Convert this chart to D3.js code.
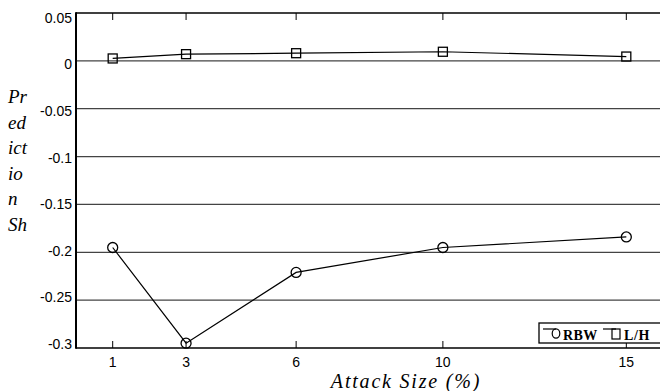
<!DOCTYPE html>
<html>
<head>
<meta charset="utf-8">
<script src="https://cdn.jsdelivr.net/npm/d3@7"></script>
<style>
  body { margin: 0; background: #fff; }
  svg { display: block; }
</style>
</head>
<body>
<svg id="svg" width="660" height="391"></svg>
<script>
'use strict';

const SANS_STYLE = "font-family:'Liberation Sans';font-size:14px";
const SERIF_ITALIC = "font-family:'Liberation Serif';font-style:italic";
const SERIF_BOLD = "font-family:'Liberation Serif';font-weight:bold;font-size:14px";

const attackSizes = [1, 3, 6, 10, 15];
const rbwValues = [-0.195, -0.295, -0.221, -0.195, -0.184];
const lhValues = [0.0025, 0.007, 0.008, 0.0095, 0.0045];
const yTicks = [0.05, 0, -0.05, -0.1, -0.15, -0.2, -0.25, -0.3];
const yLabelLines = ['Pr', 'ed', 'ict', 'io', 'n', 'Sh'];

const svg = d3.select('#svg');

const plotLeft = 76;
const plotTop = 13;
const plotBottom = 348;

const x = d3.scaleLinear().domain([0, 16]).range([plotLeft, 663]);
const y = d3.scaleLinear().domain([-0.3, 0.05]).range([plotBottom, plotTop]);
// tick labels sit slightly off the grid lines in the original export
const yLabel = d3.scaleLinear().domain([-0.3, 0.05]).range([344, 18]);

// Horizontal grid lines
svg.append('g')
  .selectAll('line')
  .data(yTicks.filter(d => d > -0.3 && d < 0.05))
  .join('line')
  .attr('x1', plotLeft)
  .attr('x2', 660)
  .attr('y1', d => y(d))
  .attr('y2', d => y(d))
  .attr('stroke', '#444')
  .attr('stroke-width', 1.3);

// Frame: top, bottom, left
svg.append('line')
  .attr('x1', plotLeft).attr('x2', 660)
  .attr('y1', plotTop).attr('y2', plotTop)
  .attr('stroke', '#000').attr('stroke-width', 1.6);
svg.append('line')
  .attr('x1', plotLeft).attr('x2', 660)
  .attr('y1', plotBottom).attr('y2', plotBottom)
  .attr('stroke', '#000').attr('stroke-width', 1.6);
svg.append('line')
  .attr('x1', plotLeft).attr('x2', plotLeft)
  .attr('y1', plotTop - 0.8).attr('y2', plotBottom + 0.8)
  .attr('stroke', '#000').attr('stroke-width', 2);

// X ticks, top and bottom, pointing inward
const xt = svg.append('g');
xt.selectAll('line.top')
  .data(attackSizes)
  .join('line')
  .attr('class', 'top')
  .attr('x1', d => x(d)).attr('x2', d => x(d))
  .attr('y1', plotTop).attr('y2', plotTop + 7)
  .attr('stroke', '#000');
xt.selectAll('line.bot')
  .data(attackSizes)
  .join('line')
  .attr('class', 'bot')
  .attr('x1', d => x(d)).attr('x2', d => x(d))
  .attr('y1', plotBottom).attr('y2', plotBottom - 7)
  .attr('stroke', '#000');

// X tick labels
svg.append('g')
  .selectAll('text')
  .data(attackSizes)
  .join('text')
  .attr('style', SANS_STYLE)
  .attr('x', d => x(d))
  .attr('y', 367)
  .attr('text-anchor', 'middle')
  .text(d => d);

// Y tick labels
svg.append('g')
  .selectAll('text')
  .data(yTicks)
  .join('text')
  .attr('style', SANS_STYLE)
  .attr('x', 72)
  .attr('y', d => yLabel(d))
  .attr('dy', '0.35em')
  .attr('text-anchor', 'end')
  .text(d => d);

// Axis titles
svg.append('text')
  .attr('style', SERIF_ITALIC + ';font-size:20px;letter-spacing:1.8px')
  .attr('x', 406)
  .attr('y', 388)
  .attr('text-anchor', 'middle')
  .text('Attack Size (%)');

svg.append('g')
  .selectAll('text')
  .data(yLabelLines)
  .join('text')
  .attr('style', SERIF_ITALIC + ';font-size:19px')
  .attr('x', 8)
  .attr('y', (d, i) => 103 + i * 25.6)
  .text(d => d);

// Series lines
const line = d3.line()
  .x((d, i) => x(attackSizes[i]))
  .y(d => y(d));

svg.append('path')
  .datum(rbwValues)
  .attr('d', line)
  .attr('fill', 'none')
  .attr('stroke', '#000')
  .attr('stroke-width', 1.2);

svg.append('path')
  .datum(lhValues)
  .attr('d', line)
  .attr('fill', 'none')
  .attr('stroke', '#000')
  .attr('stroke-width', 1.2);

// Markers
svg.append('g')
  .selectAll('circle')
  .data(rbwValues)
  .join('circle')
  .attr('cx', (d, i) => x(attackSizes[i]))
  .attr('cy', d => y(d))
  .attr('r', 5)
  .attr('fill', 'none')
  .attr('stroke', '#000')
  .attr('stroke-width', 1.3);

svg.append('g')
  .selectAll('rect')
  .data(lhValues)
  .join('rect')
  .attr('x', (d, i) => x(attackSizes[i]) - 4.5)
  .attr('y', d => y(d) - 4.5)
  .attr('width', 9)
  .attr('height', 9)
  .attr('fill', 'none')
  .attr('stroke', '#000')
  .attr('stroke-width', 1.3);

// Legend
const legend = svg.append('g');
legend.append('rect')
  .attr('x', 539)
  .attr('y', 323)
  .attr('width', 125)
  .attr('height', 20)
  .attr('fill', '#fff')
  .attr('stroke', '#000')
  .attr('stroke-width', 1.3);

legend.append('line')
  .attr('x1', 543).attr('x2', 556)
  .attr('y1', 329).attr('y2', 329)
  .attr('stroke', '#000').attr('stroke-width', 1.2);
legend.append('ellipse')
  .attr('cx', 556).attr('cy', 333.5)
  .attr('rx', 3.8).attr('ry', 4.6)
  .attr('fill', 'none')
  .attr('stroke', '#000')
  .attr('stroke-width', 1.2);
legend.append('text')
  .attr('style', SERIF_BOLD + ';letter-spacing:0.4px')
  .attr('x', 563).attr('y', 339.5)
  .text('RBW');

legend.append('line')
  .attr('x1', 603).attr('x2', 616)
  .attr('y1', 329).attr('y2', 329)
  .attr('stroke', '#000').attr('stroke-width', 1.2);
legend.append('rect')
  .attr('x', 612).attr('y', 329)
  .attr('width', 8).attr('height', 10)
  .attr('fill', 'none')
  .attr('stroke', '#000')
  .attr('stroke-width', 1.2);
legend.append('text')
  .attr('style', SERIF_BOLD + ';letter-spacing:0.6px')
  .attr('x', 624).attr('y', 339.5)
  .text('L/H');
</script>
</body>
</html>
